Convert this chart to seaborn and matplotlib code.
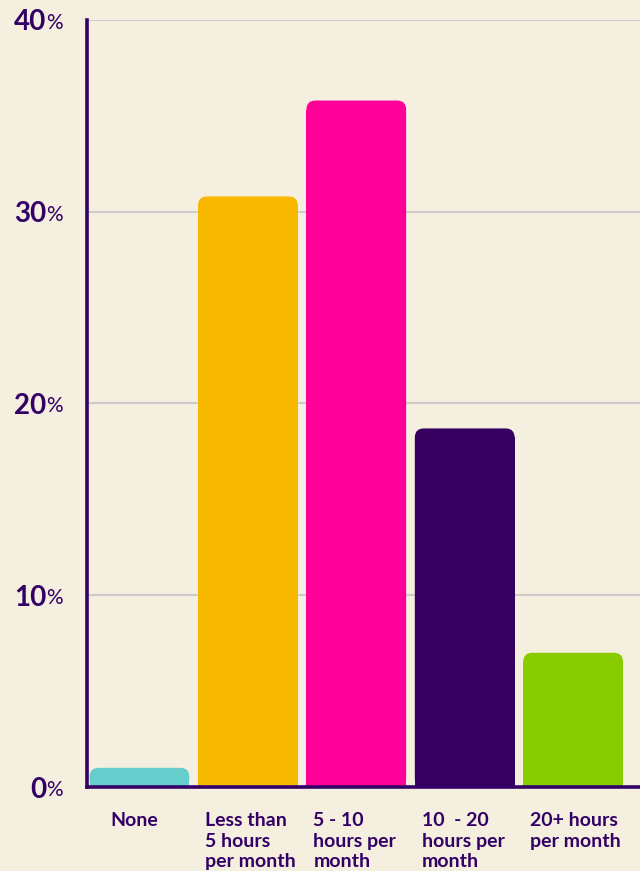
import matplotlib
matplotlib.use("Agg")
import matplotlib.pyplot as plt
import matplotlib.transforms as mtransforms
from matplotlib.patches import FancyBboxPatch
import seaborn as sns

# data
categories = ["None", "Less than\n5 hours\nper month", "5 - 10\nhours per\nmonth",
              "10  - 20\nhours per\nmonth", "20+ hours\nper month"]
values = [1, 30.8, 35.8, 18.7, 7]
colors = ["#66CDCD", "#F9B800", "#FF0099", "#35005F", "#88CC00"]
yticks = [0, 10, 20, 30, 40]

BG = "#F5EFDF"
INK = "#330066"

sns.set_theme(style="white")
plt.rcParams["font.family"] = ["Lato", "DejaVu Sans"]

fig = plt.figure(figsize=(6.4, 8.71), dpi=100, facecolor=BG)
ax = fig.add_axes([87 / 640, 84 / 871, 553 / 640, 767 / 871])
ax.set_facecolor(BG)

sns.barplot(x=list(range(len(values))), y=values, hue=list(range(len(values))),
            palette=colors, legend=False, width=0.92, saturation=1, ax=ax)

ax.set_xlim(-0.484, 4.617)
ax.set_ylim(0, 40)

# rounded tops
rx = 9 / 108.4
ry = 9 / 19.175
for p in list(ax.patches):
    x, w, h = p.get_x(), p.get_width(), p.get_height()
    p.set_edgecolor("none")
    p.set_height(h - ry)
    ax.add_patch(FancyBboxPatch((x, 0), w, h,
                                boxstyle=f"round,pad=0,rounding_size={rx}",
                                mutation_aspect=ry / rx,
                                fc=p.get_facecolor(), ec="none", zorder=p.get_zorder()))

ax.set_axisbelow(True)
ax.yaxis.grid(True, color="#CCCCCC", lw=1.5)
ax.xaxis.grid(False)
sns.despine(ax=ax, top=True, right=True)
for s in ["left", "bottom"]:
    ax.spines[s].set_color(INK)
    ax.spines[s].set_linewidth(2.6)

ax.set_yticks(yticks)
ax.set_yticklabels([str(t) for t in yticks], fontsize=20, color=INK, fontweight="bold")
ax.tick_params(axis="y", length=0, pad=29)
pct_tf = mtransforms.blended_transform_factory(fig.transFigure, ax.transData)
for t in yticks:
    ax.text(46 / 640, t - 0.15, "%", transform=pct_tf, ha="left", va="center",
            fontsize=15, color=INK)

ax.set_xticks(range(len(categories)))
ax.set_xticklabels(categories, fontsize=14, color=INK, fontweight="bold",
                   ha="left", va="top", linespacing=1.25)
ax.tick_params(axis="x", length=0, pad=18)
# labels start a little inside each bar; "None" sits a bit further right
shifts = [-0.29, -0.43, -0.43, -0.43, -0.43]
for lab, dx in zip(ax.get_xticklabels(), shifts):
    offset = mtransforms.ScaledTranslation(dx, 0, fig.dpi_scale_trans)
    lab.set_transform(lab.get_transform() + offset)

ax.set_xlabel("")
ax.set_ylabel("")

fig.savefig("out.png", dpi=100, facecolor=BG)
